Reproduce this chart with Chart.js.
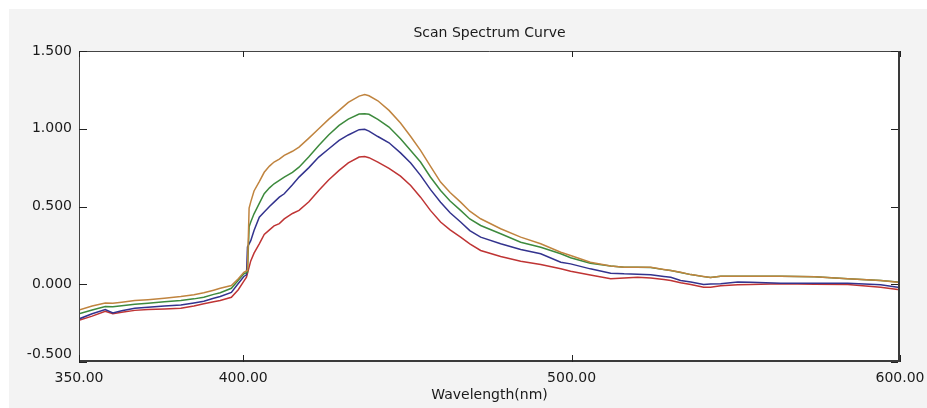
<!DOCTYPE html>
<html>
<head>
<meta charset="utf-8">
<script src="https://cdn.jsdelivr.net/npm/chart.js@4/dist/chart.umd.min.js"></script>
<style>
  html, body { margin: 0; padding: 0; background: #ffffff; }
  #wrap { position: relative; width: 927px; height: 408px; }
  canvas { display: block; }
</style>
</head>
<body>
<div id="wrap"><canvas id="c" width="927" height="408"></canvas></div>
<script>
// ---- data ----
const wavelengths = [350, 354, 358, 360.3, 363, 367, 371, 376, 381, 385, 388, 391, 393, 396.4, 398.5, 400.2, 401.0, 401.3, 401.8, 402.3, 403.3, 404.9, 406.4, 408, 409.4, 411, 412.5, 415, 417, 420, 423, 426, 429.2, 432, 435.3, 437, 438.3, 441, 444.4, 447.9, 451, 454, 457, 460.1, 463, 466.2, 469, 472.3, 478.4, 484.5, 490.6, 496.7, 499.7, 505.7, 511.9, 516, 520.1, 524.1, 528.1, 530.2, 533.2, 536.3, 540.2, 542.3, 545.4, 550.6, 554.5, 563.7, 574, 584.1, 594.1, 599.3, 600];

const seriesOrange = [-0.165, -0.14, -0.12, -0.122, -0.115, -0.105, -0.099, -0.09, -0.079, -0.068, -0.055, -0.038, -0.026, -0.008, 0.035, 0.077, 0.085, 0.09, 0.49, 0.53, 0.60, 0.66, 0.72, 0.76, 0.786, 0.805, 0.829, 0.855, 0.882, 0.94, 1.0, 1.06, 1.118, 1.17, 1.21, 1.22, 1.212, 1.18, 1.118, 1.037, 0.95, 0.861, 0.76, 0.657, 0.59, 0.528, 0.47, 0.421, 0.357, 0.303, 0.26, 0.206, 0.185, 0.142, 0.118, 0.11, 0.109, 0.109, 0.095, 0.088, 0.077, 0.062, 0.05, 0.043, 0.052, 0.052, 0.052, 0.052, 0.048, 0.035, 0.024, 0.013, 0.01];

const seriesGreen = [-0.19, -0.165, -0.143, -0.145, -0.138, -0.128, -0.122, -0.113, -0.105, -0.094, -0.084, -0.065, -0.055, -0.026, 0.025, 0.067, 0.075, 0.078, 0.37, 0.40, 0.453, 0.52, 0.582, 0.62, 0.646, 0.668, 0.689, 0.72, 0.753, 0.82, 0.893, 0.96, 1.022, 1.062, 1.095, 1.097, 1.093, 1.06, 1.011, 0.936, 0.86, 0.786, 0.69, 0.603, 0.535, 0.475, 0.42, 0.378, 0.325, 0.27, 0.238, 0.196, 0.17, 0.135, 0.118, 0.11, 0.109, 0.108, 0.094, 0.088, 0.076, 0.062, 0.049, 0.043, 0.051, 0.052, 0.052, 0.051, 0.048, 0.035, 0.024, 0.014, 0.01];

const seriesBlue = [-0.223, -0.19, -0.163, -0.184, -0.17, -0.155, -0.148, -0.14, -0.133, -0.12, -0.109, -0.09, -0.079, -0.052, 0.005, 0.05, 0.06, 0.24, 0.26, 0.28, 0.346, 0.431, 0.464, 0.50, 0.528, 0.56, 0.582, 0.64, 0.689, 0.75, 0.818, 0.87, 0.925, 0.96, 0.994, 0.996, 0.985, 0.95, 0.91, 0.845, 0.78, 0.70, 0.61, 0.528, 0.46, 0.40, 0.345, 0.303, 0.26, 0.223, 0.196, 0.142, 0.131, 0.099, 0.071, 0.067, 0.065, 0.061, 0.05, 0.045, 0.024, 0.015, -0.002, 0.002, 0.003, 0.015, 0.013, 0.006, 0.006, 0.006, -0.004, -0.019, -0.02];

const seriesRed = [-0.232, -0.205, -0.174, -0.19, -0.18, -0.168, -0.163, -0.159, -0.155, -0.14, -0.126, -0.112, -0.105, -0.084, -0.035, 0.02, 0.045, 0.07, 0.11, 0.15, 0.20, 0.26, 0.32, 0.35, 0.375, 0.39, 0.42, 0.455, 0.475, 0.53, 0.603, 0.67, 0.732, 0.78, 0.818, 0.822, 0.814, 0.785, 0.745, 0.695, 0.635, 0.56, 0.475, 0.40, 0.35, 0.303, 0.26, 0.217, 0.178, 0.148, 0.127, 0.099, 0.084, 0.06, 0.035, 0.04, 0.045, 0.04, 0.03, 0.024, 0.01, -0.002, -0.019, -0.019, -0.01, -0.004, -0.002, 0.003, 0.0, -0.002, -0.019, -0.034, -0.035];

const xTickValues = [350, 400, 500, 600];
const xTickLabels = ["350.00", "400.00", "500.00", "600.00"];
const yTickValues = [1.5, 1.0, 0.5, 0.0, -0.5];
const yTickLabels = ["1.500", "1.000", "0.500", "0.000", "-0.500"];
const chartTitle = "Scan Spectrum Curve";
const xAxisTitle = "Wavelength(nm)";

// ---- build datasets ----
function pts(vals) { return wavelengths.map((w, i) => ({ x: w, y: vals[i] })); }
function ds(label, vals, color) {
  return { label, data: pts(vals), borderColor: color, borderWidth: 1.5, pointRadius: 0, tension: 0, fill: false };
}

const framePlugin = {
  id: 'frame',
  beforeDraw(chart) {
    const ctx = chart.ctx, a = chart.chartArea;
    ctx.save();
    ctx.fillStyle = '#ffffff';
    ctx.fillRect(0, 0, chart.width, chart.height);
    ctx.fillStyle = '#f3f3f3';
    ctx.fillRect(9, 9, chart.width - 9, chart.height - 9);
    ctx.fillStyle = '#ffffff';
    ctx.fillRect(a.left, a.top, a.right - a.left, a.bottom - a.top);
    ctx.restore();
  },
  afterDraw(chart) {
    const ctx = chart.ctx, a = chart.chartArea;
    const xs = chart.scales.x, ys = chart.scales.y;
    ctx.save();
    // frame
    ctx.strokeStyle = '#444444';
    ctx.lineWidth = 1;
    ctx.beginPath();
    ctx.moveTo(a.left + 0.5, a.bottom); ctx.lineTo(a.left + 0.5, a.top + 0.5); ctx.lineTo(a.right, a.top + 0.5);
    ctx.stroke();
    ctx.lineWidth = 2;
    ctx.strokeStyle = '#3a3a3a';
    ctx.beginPath();
    ctx.moveTo(a.right - 1, a.top); ctx.lineTo(a.right - 1, a.bottom - 1); ctx.lineTo(a.left, a.bottom - 1);
    ctx.stroke();
    // ticks (inward)
    ctx.lineWidth = 1;
    ctx.strokeStyle = '#222222';
    ctx.beginPath();
    yTickValues.forEach(v => {
      const y = Math.round(ys.getPixelForValue(v)) + 0.5;
      ctx.moveTo(a.left, y); ctx.lineTo(a.left + 8, y);
      ctx.moveTo(a.right - 2, y); ctx.lineTo(a.right - 9, y);
    });
    xTickValues.forEach(v => {
      const x = Math.round(xs.getPixelForValue(v)) + 0.5;
      ctx.moveTo(x, a.bottom); ctx.lineTo(x, a.bottom - 7);
      ctx.moveTo(x, a.top); ctx.lineTo(x, a.top + 6);
    });
    ctx.stroke();
    // tick labels
    ctx.fillStyle = '#1a1a1a';
    ctx.font = '14px "DejaVu Sans"';
    ctx.textAlign = 'right';
    ctx.textBaseline = 'middle';
    yTickValues.forEach((v, i) => {
      let y = ys.getPixelForValue(v);
      if (y > a.bottom - 8) y = a.bottom - 8;
      ctx.fillText(yTickLabels[i], a.left - 7, y);
    });
    ctx.textAlign = 'center';
    xTickValues.forEach((v, i) => {
      ctx.fillText(xTickLabels[i], xs.getPixelForValue(v), a.bottom + 16);
    });
    // titles
    const cx = (a.left + a.right) / 2;
    ctx.font = '14px "DejaVu Sans"';
    ctx.fillText(chartTitle, cx, 33);
    ctx.fillText(xAxisTitle, cx, 395);
    ctx.restore();
  }
};

new Chart(document.getElementById('c'), {
  type: 'line',
  data: {
    datasets: [
      ds('S1', seriesOrange, '#c0843f'),
      ds('S2', seriesGreen, '#3d8a3d'),
      ds('S3', seriesBlue, '#33338e'),
      ds('S4', seriesRed, '#bf3434')
    ]
  },
  options: {
    responsive: false,
    animation: false,
    devicePixelRatio: 1,
    layout: { padding: { left: 79, top: 51, right: 27, bottom: 46 } },
    plugins: { legend: { display: false }, tooltip: { enabled: false }, title: { display: false } },
    scales: {
      x: { type: 'linear', min: 350, max: 600, display: false },
      y: { type: 'linear', min: -0.5, max: 1.5, display: false }
    }
  },
  plugins: [framePlugin]
});
</script>
</body>
</html>
